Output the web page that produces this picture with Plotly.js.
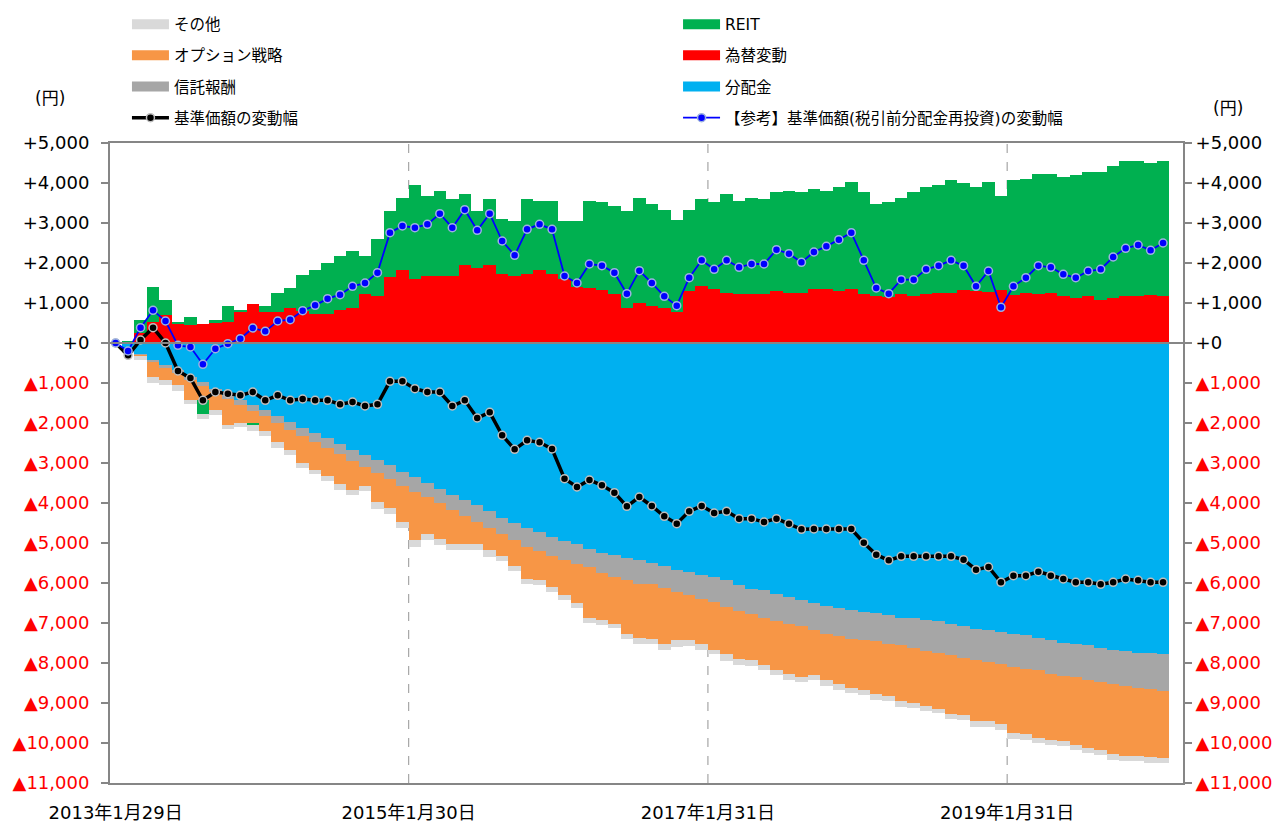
<!DOCTYPE html>
<html><head><meta charset="utf-8">
<script src="https://cdn.plot.ly/plotly-3.0.1.min.js"></script>
<style>body{margin:0;background:#fff}#chart{width:1284px;height:822px}</style>
</head><body><div id="chart"></div>
<script>
// month index 0 = 2013/1/29 ... 84 = 2020/1
const months = Array.from({length: 85}, (_, i) => i);
const tickLabels = ['2013年1月29日', '2015年1月30日', '2017年1月31日', '2019年1月31日'];

const dist = [0,-150,-283,-433,-558,-683,-850,-975,-1142,-1308,
 -1433,-1558,-1683,-1825,-1975,-2117,-2242,-2367,-2517,-2683,
 -2808,-2933,-3058,-3225,-3350,-3500,-3642,-3808,-3933,-4058,
 -4208,-4367,-4500,-4633,-4717,-4850,-4950,-5017,-5142,-5242,
 -5292,-5375,-5433,-5492,-5583,-5667,-5725,-5792,-5850,-5917,
 -6058,-6142,-6183,-6267,-6350,-6417,-6500,-6567,-6617,-6667,
 -6725,-6750,-6808,-6867,-6875,-6917,-6958,-7017,-7083,-7142,
 -7183,-7225,-7267,-7308,-7367,-7433,-7492,-7517,-7558,-7617,
 -7667,-7700,-7742,-7750,-7783];
const fee = [0,-20,-20,-40,-60,-60,-80,-100,-90,-100,
 -120,-140,-150,-180,-190,-210,-230,-250,-260,-270,
 -290,-310,-330,-340,-370,-360,-370,-360,-380,-410,
 -420,-420,-430,-460,-490,-470,-470,-520,-470,-510,
 -560,-540,-580,-540,-542,-558,-583,-600,-625,-683,
 -650,-641,-684,-691,-667,-658,-667,-700,-716,-725,
 -708,-700,-709,-691,-740,-783,-792,-775,-792,-775,
 -792,-808,-833,-834,-800,-834,-825,-833,-875,-858,
 -850,-867,-875,-900,-909];
const fx = [0,0,250,525,692,483,442,483,500,525,
 775,967,775,775,875,800,733,733,817,875,
 1217,1175,1650,1817,1600,1683,1683,1683,1942,1875,
 1942,1717,1683,1733,1817,1717,1608,1400,1383,1333,
 1217,875,1000,917,875,775,1300,1433,1350,1258,
 1217,1217,1217,1308,1258,1258,1342,1342,1308,1350,
 1225,1183,1150,1217,1175,1217,1250,1250,1333,1308,
 1283,1317,1208,1258,1217,1250,1175,1133,1175,1083,
 1125,1175,1175,1208,1175];
const option = [0,-30,-10,-377,-315,-315,-487,-358,-451,-634,
 -447,-294,-375,-470,-502,-673,-695,-716,-756,-714,
 -485,-732,-729,-910,-1213,-923,-880,-849,-704,-549,
 -555,-530,-653,-799,-726,-780,-888,-955,-1255,-1165,
 -1165,-1352,-1354,-1360,-1392,-1208,-1125,-1125,-1192,-1183,
 -1184,-1150,-1175,-1225,-1250,-1275,-1141,-1166,-1200,-1225,
 -1234,-1333,-1316,-1400,-1385,-1383,-1392,-1475,-1433,-1533,
 -1475,-1484,-1642,-1641,-1700,-1650,-1641,-1692,-1684,-1692,
 -1750,-1766,-1716,-1700,-1683];
const reit = [0,50,317,875,391,42,208,-334,67,392,
 42,-66,142,483,508,892,1084,1267,1350,1417,
 950,1433,1650,1816,2342,1992,2125,1909,1783,1417,
 1650,1391,1359,1859,1741,1841,1434,1642,2167,2184,
 2200,2425,2633,2558,2458,2308,2033,2159,2175,2467,
 2341,2416,2375,2459,2550,2509,2508,2466,2592,2675,
 2542,2284,2367,2416,2592,2675,2692,2817,2659,2584,
 2742,2366,2859,2850,3016,2983,2983,3075,3100,3192,
 3292,3367,3367,3300,3367];
const other = [0,-50,-120,-150,-125,-142,-116,-125,-125,-116,
 -100,-142,-125,-150,-141,-117,-116,-117,-134,-141,
 -125,-167,-150,-142,-167,-150,-166,-166,-166,-166,
 -167,-133,-117,-141,-125,-125,-125,-125,-133,-141,
 -108,-125,-150,-125,-166,-167,-150,-166,-116,-167,
 -150,-150,-141,-109,-150,-125,-125,-142,-150,-133,
 -125,-150,-117,-142,-125,-125,-108,-125,-125,-150,
 -150,-150,-150,-150,-133,-141,-125,-125,-133,-125,
 -150,-125,-125,-150,-125];
const nav = [0,-308,75,383,0,-700,-875,-1433,-1225,-1267,
 -1308,-1225,-1433,-1308,-1433,-1400,-1433,-1433,-1533,-1475,
 -1575,-1533,-958,-958,-1142,-1225,-1225,-1575,-1433,-1875,
 -1733,-2308,-2658,-2433,-2483,-2650,-3392,-3600,-3425,-3558,
 -3742,-4083,-3850,-4075,-4333,-4517,-4208,-4075,-4250,-4208,
 -4392,-4392,-4475,-4392,-4517,-4658,-4650,-4650,-4650,-4650,
 -4992,-5292,-5433,-5333,-5333,-5333,-5333,-5333,-5417,-5667,
 -5600,-5983,-5817,-5817,-5717,-5817,-5900,-5983,-5983,-6033,
 -5983,-5900,-5933,-5983,-5983];
const ref = [0,-200,383,817,550,-58,-100,-533,-142,-17,
 108,375,292,550,583,808,942,1108,1208,1417,
 1500,1758,2758,2925,2883,2967,3233,2883,3333,2817,
 3233,2550,2192,2842,2967,2842,1675,1500,1975,1933,
 1758,1233,1808,1500,1167,933,1633,2067,1842,2067,
 1892,1975,1975,2333,2233,2017,2275,2417,2583,2758,
 2067,1375,1233,1583,1583,1842,1933,2067,1933,1417,
 1800,892,1417,1633,1933,1892,1717,1633,1800,1842,
 2150,2367,2450,2317,2500];

const yTickVals = [5000,4000,3000,2000,1000,0,-1000,-2000,-3000,-4000,-5000,-6000,-7000,-8000,-9000,-10000,-11000];
const yTickText = yTickVals.map(v => v >= 0 ? '+' + v.toLocaleString('en-US')
  : '<span style="color:#FF0000">▲' + (-v).toLocaleString('en-US') + '</span>');

const C = {dist:'#00B0F0', fee:'#A6A6A6', fx:'#FF0000', option:'#F79646', reit:'#00B050', other:'#D9D9D9'};
const FONT = 'DejaVu Sans, "Noto Sans CJK JP", sans-serif';

function bar(name, y, color) {
  return {type:'bar', name, x: months, y, width: 1, marker:{color, line:{width:0}},
          showlegend:false, hoverinfo:'skip', yaxis:'y'};
}
function swatch(name, color, legend) {
  return {type:'scatter', mode:'lines', name, x:[null], y:[null], line:{color, width:13},
          legend, legendgroup:name, showlegend:true, hoverinfo:'skip'};
}

const data = [
  bar('分配金', dist, C.dist),
  bar('信託報酬', fee, C.fee),
  bar('為替変動', fx, C.fx),
  bar('オプション戦略', option, C.option),
  bar('REIT', reit, C.reit),
  bar('その他', other, C.other),
  swatch('その他', C.other, 'legend'),
  swatch('REIT', C.reit, 'legend2'),
  swatch('オプション戦略', C.option, 'legend'),
  swatch('為替変動', C.fx, 'legend2'),
  swatch('信託報酬', C.fee, 'legend'),
  swatch('分配金', C.dist, 'legend2'),
  {type:'scatter', mode:'lines+markers', name:'基準価額の変動幅', x: months, y: nav, yaxis:'y2',
   line:{color:'#000000', width:3.5}, marker:{color:'#000000', size:8, line:{color:'#BFBFBF', width:1.5}},
   legend:'legend', legendgroup:'nav', hoverinfo:'skip'},
  {type:'scatter', mode:'lines+markers', name:'【参考】基準価額(税引前分配金再投資)の変動幅', x: months, y: ref, yaxis:'y2',
   line:{color:'#0000FF', width:1.8}, marker:{color:'#0000FF', size:8, line:{color:'#9DB3E0', width:1.5}},
   legend:'legend2', legendgroup:'ref', hoverinfo:'skip'}
];

const yCommon = {range:[-11000, 5000], tickvals: yTickVals, ticktext: yTickText, showgrid:false, zeroline:false,
  showline:true, linecolor:'#868686', linewidth:2, ticks:'outside', ticklen:7, tickwidth:1.5, tickcolor:'#868686',
  tickfont:{family: FONT, size:18, color:'#000'}, fixedrange:true};

const gridX = [23.5, 47.5, 71.5];
const shapes = gridX.map(x => ({type:'line', xref:'x', yref:'paper', x0:x, x1:x, y0:0, y1:1,
  line:{color:'#A6A6A6', width:1.2, dash:'dash'}, layer:'below'}));
shapes.push({type:'line', xref:'paper', yref:'y', x0:0, x1:1, y0:0, y1:0, line:{color:'#868686', width:2}, layer:'above'});

const legendCommon = {orientation:'v', traceorder:'grouped', tracegroupgap:8, itemwidth:37, bgcolor:'rgba(0,0,0,0)',
  font:{family: FONT, size:15.5, color:'#000'}, xanchor:'left', yanchor:'top', itemclick:false, itemdoubleclick:false};

const layout = {
  width:1284, height:822, paper_bgcolor:'#fff', plot_bgcolor:'#fff',
  margin:{l:110, r:101, t:143, b:39, autoexpand:false},
  barmode:'relative', bargap:0,
  font:{family: FONT, color:'#000'},
  xaxis:{range:[-0.45, 85.6], tickvals:[0, 23.5, 47.5, 71.5], ticktext: tickLabels, showgrid:false, zeroline:false,
    showline:true, mirror:true, linecolor:'#868686', linewidth:2, ticks:'', ticklabelstandoff:12,
    tickfont:{family: FONT, size:18, color:'#000'}, fixedrange:true},
  yaxis: Object.assign({}, yCommon, {side:'left', ticklabelstandoff:8}),
  yaxis2: Object.assign({}, yCommon, {side:'right', overlaying:'y'}),
  legend: Object.assign({}, legendCommon, {x:0.0158, y:1.2115}),
  legend2: Object.assign({}, legendCommon, {x:0.5294, y:1.2115}),
  shapes,
  annotations:[
    {xref:'paper', yref:'paper', x:-0.056, y:1.07, xanchor:'center', yanchor:'middle', text:'(円)', showarrow:false, font:{family:FONT, size:17, color:'#000'}},
    {xref:'paper', yref:'paper', x:1.042, y:1.054, xanchor:'center', yanchor:'middle', text:'(円)', showarrow:false, font:{family:FONT, size:17, color:'#000'}}
  ]
};

Plotly.newPlot('chart', data, layout, {displayModeBar:false, staticPlot:true});
</script></body></html>
